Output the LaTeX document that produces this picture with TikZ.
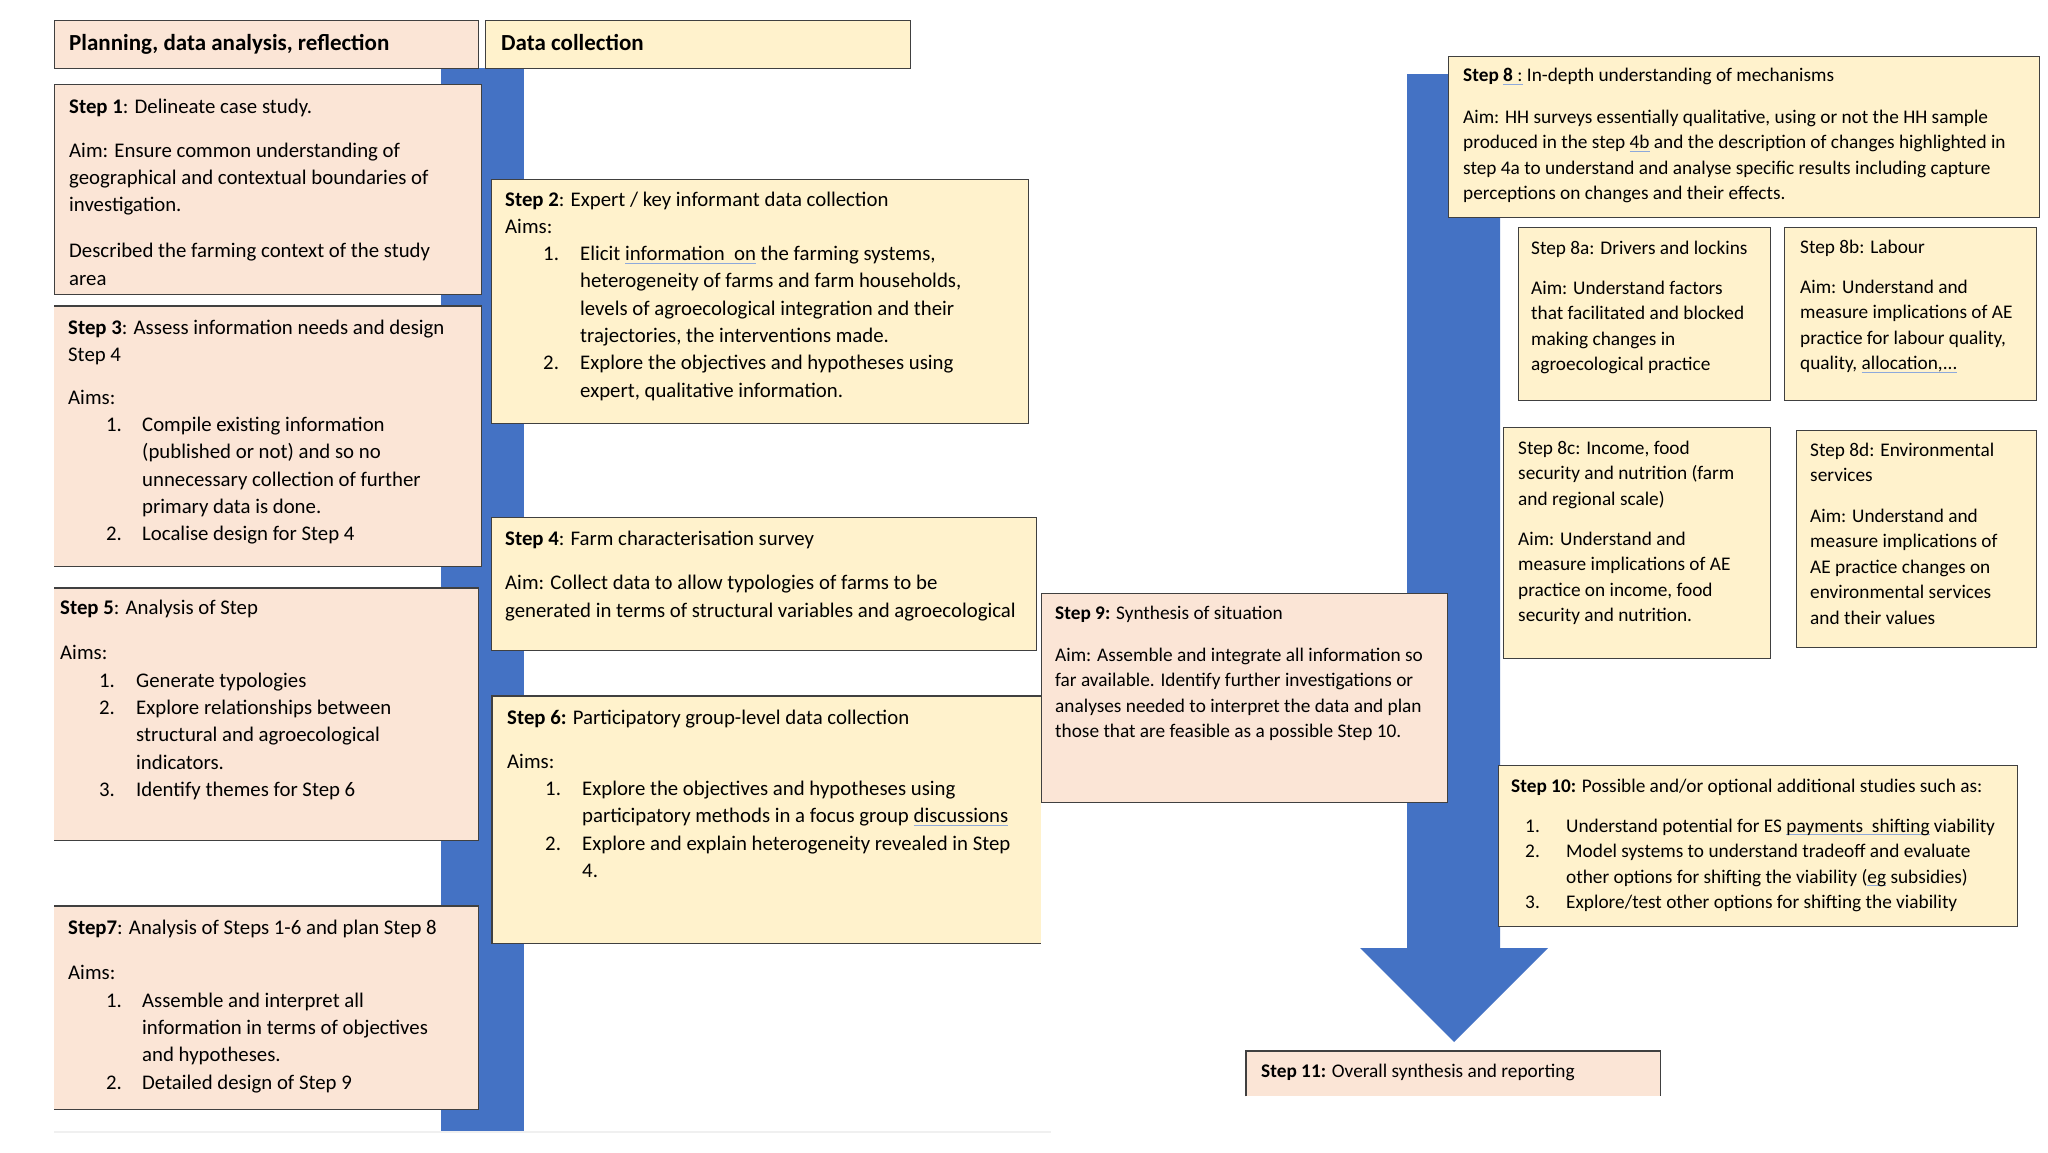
\documentclass[tikz,border=0pt]{standalone}
\usepackage{fontspec}
\setmainfont{Carlito}
\definecolor{peach}{HTML}{FBE5D6}
\definecolor{cream}{HTML}{FFF2CC}
\definecolor{flowblue}{HTML}{4472C4}
\definecolor{boxline}{HTML}{404040}
\definecolor{checkblue}{HTML}{8EA9DB}
\newsavebox{\chkbox}
\newcommand{\chk}[1]{\sbox{\chkbox}{#1}\rlap{\textcolor{checkblue}{\rule[-0.35ex]{\wd\chkbox}{1.3pt}}}\usebox{\chkbox}}
\newcommand{\itm}[3]{\hspace*{#1pt}\makebox[\dimexpr#2pt-#1pt\relax][l]{#3}}
\newcommand{\cnt}[1]{\hspace*{#1pt}}

\begin{document}
\begin{tikzpicture}[x=1pt,y=-1pt]
   \tikzset{pbox/.style = {fill=peach,draw=boxline,line width=1.3pt,anchor=north west,inner sep=0pt},
            ybox/.style = {fill=cream,draw=boxline,line width=1.3pt,anchor=north west,inner sep=0pt},
            pfill/.style = {fill=peach,anchor=north west,inner sep=0pt},
            yfill/.style = {fill=cream,anchor=north west,inner sep=0pt},
            rim/.style = {draw=boxline,line width=1.3pt},
            sz/.style 2 args = {minimum width=#1pt,minimum height=#2pt},
            headtext/.style = {anchor=base west,inner sep=0pt,font=\fontsize{23}{27}\selectfont\bfseries},
            bodytext/.style = {anchor=north west,yshift=13.1pt,align=left,inner sep=0pt,
                               execute at begin node=\strut,font=\fontsize{20.8}{27.3}\selectfont},
            sidetext/.style = {anchor=north west,yshift=12pt,align=left,inner sep=0pt,
                               execute at begin node=\strut,font=\fontsize{19.3}{25.5}\selectfont}}

   \fill[white] (0,0) rectangle (2048,1152);
   \useasboundingbox (0,0) rectangle (2048,1152);

   % blue bar and big arrow
   \fill[flowblue] (441,68) rectangle (524,1131);
   \fill[flowblue] (1407,74) -- (1500,74) -- (1500,948) -- (1548,948) -- (1454,1042)
                   -- (1360,948) -- (1407,948) -- cycle;
   \draw[black!6,line width=1.5pt] (54,1132) -- (1051,1132);

   % column heads
   \node[pbox,sz={424}{48}] (plan) at (54,20) {};
   \node[ybox,sz={425}{48}] (coll) at (485,20) {};
   \node[headtext] (plantxt) at (69,50) {Planning, data analysis, reflection};
   \node[headtext] (colltxt) at (501,50) {Data collection};

   % left column
   \node[pbox,sz={427}{210}] (s1) at (54,84) {};
   \node[pfill,sz={427}{260}] (s3) at (54,306) {};
   \node[pfill,sz={424}{252}] (s5) at (54,588) {};
   \node[pfill,sz={424}{203}] (s7) at (54,906) {};
   \draw[rim] (s3.north west) -- (s3.north east) -- (s3.south east) -- (s3.south west);
   \draw[rim] (s5.north west) -- (s5.north east) -- (s5.south east) -- (s5.south west);
   \draw[rim] (s7.north west) -- (s7.north east) -- (s7.south east) -- (s7.south west);

   \node[bodytext] (s1txt) at (69,111.5) {\textbf{Step 1}: Delineate case study.\\[17pt]
      Aim: Ensure common understanding of\\
      geographical and contextual boundaries of\\
      investigation.\\[18.5pt]
      Described the farming context of the study\\
      area};
   \node[bodytext] (s3txt) at (68,332.5) {\textbf{Step 3}: Assess information needs and design\\
      Step 4\\[15.6pt]
      Aims:\\
      \itm{38}{74}{1.}Compile existing information\\
      \cnt{74}(published or not) and so no\\
      \cnt{74}unnecessary collection of further\\
      \cnt{74}primary data is done.\\
      \itm{38}{74}{2.}Localise design for Step 4};
   \node[bodytext] (s5txt) at (60,613) {\textbf{Step 5}: Analysis of Step\\[18pt]
      Aims:\\
      \itm{39}{76}{1.}Generate typologies\\
      \itm{39}{76}{2.}Explore relationships between\\
      \cnt{76}structural and agroecological\\
      \cnt{76}indicators.\\
      \itm{39}{76}{3.}Identify themes for Step 6};
   \node[bodytext] (s7txt) at (68,933) {\textbf{Step7}: Analysis of Steps 1-6 and plan Step 8\\[18pt]
      Aims:\\
      \itm{38}{74}{1.}Assemble and interpret all\\
      \cnt{74}information in terms of objectives\\
      \cnt{74}and hypotheses.\\
      \itm{38}{74}{2.}Detailed design of Step 9};

   % data collection column
   \node[ybox,sz={537}{244}] (s2) at (491,179) {};
   \node[ybox,sz={545}{133}] (s4) at (491,517) {};
   \node[yfill,sz={549}{247}] (s6) at (492,696) {};
   \draw[rim] (s6.north east) -- (s6.north west) -- (s6.south west) -- (s6.south east);

   \node[bodytext] (s2txt) at (505,204.5) {\textbf{Step 2}: Expert / key informant data collection\\
      Aims:\\
      \itm{38}{75}{1.}Elicit \chk{information\ \ on} the farming systems,\\
      \cnt{75}heterogeneity of farms and farm households,\\
      \cnt{75}levels of agroecological integration and their\\
      \cnt{75}trajectories, the interventions made.\\
      \itm{38}{75}{2.}Explore the objectives and hypotheses using\\
      \cnt{75}expert, qualitative information.};
   \node[bodytext] (s4txt) at (505,544) {\textbf{Step 4}: Farm characterisation survey\\[17pt]
      Aim: Collect data to allow typologies of farms to be\\
      generated in terms of structural variables and agroecological};
   \node[bodytext] (s6txt) at (507,723) {\textbf{Step 6:} Participatory group-level data collection\\[16.5pt]
      Aims:\\
      \itm{38}{75}{1.}Explore the objectives and hypotheses using\\
      \cnt{75}participatory methods in a focus group \chk{discussions}\\
      \itm{38}{75}{2.}Explore and explain heterogeneity revealed in Step\\
      \cnt{75}4.};

   % synthesis
   \node[pbox,sz={406}{209}] (s9) at (1041,593) {};
   \node[sidetext] (s9txt) at (1055,618) {\textbf{Step 9:} Synthesis of situation\\[16pt]
      Aim: Assemble and integrate all information so\\
      far available. Identify further investigations or\\
      analyses needed to interpret the data and plan\\
      those that are feasible as a possible Step 10.};

   % step 8 and its parts
   \node[ybox,sz={591}{161}] (s8) at (1448,56) {};
   \node[ybox,sz={252}{173}] (s8a) at (1518,227) {};
   \node[ybox,sz={252}{173}] (s8b) at (1784,227) {};
   \node[ybox,sz={267}{231}] (s8c) at (1503,427) {};
   \node[ybox,sz={240}{217}] (s8d) at (1796,430) {};

   \node[sidetext] (s8txt) at (1463,80) {\textbf{Step }\chk{\textbf{8} :} In-depth understanding of mechanisms\\[16pt]
      Aim: HH surveys essentially qualitative, using or not the HH sample\\
      produced in the step \chk{4b} and the description of changes highlighted in\\
      step 4a to understand and analyse specific results including capture\\
      perceptions on changes and their effects.};
   \node[sidetext] (s8atxt) at (1531,252.5) {Step 8a: Drivers and lockins\\[14.5pt]
      Aim: Understand factors\\
      that facilitated and blocked\\
      making changes in\\
      agroecological practice};
   \node[sidetext] (s8btxt) at (1800,251.5) {Step 8b: Labour\\[14.5pt]
      Aim: Understand and\\
      measure implications of AE\\
      practice for labour quality,\\
      quality, \chk{allocation,...}};
   \node[sidetext] (s8ctxt) at (1518,452.5) {Step 8c: Income, food\\
      security and nutrition (farm\\
      and regional scale)\\[14.5pt]
      Aim: Understand and\\
      measure implications of AE\\
      practice on income, food\\
      security and nutrition.};
   \node[sidetext] (s8dtxt) at (1810,454.5) {Step 8d: Environmental\\
      services\\[15pt]
      Aim: Understand and\\
      measure implications of\\
      AE practice changes on\\
      environmental services\\
      and their values};

   % further studies and report
   \node[ybox,sz={519}{161}] (s10) at (1498,765) {};
   \node[sidetext] (s10txt) at (1511,790.5) {\textbf{Step 10:} Possible and/or optional additional studies such as:\\[14.5pt]
      \itm{14}{55}{1.}Understand potential for ES \chk{payments\ \ shifting} viability\\
      \itm{14}{55}{2.}Model systems to understand tradeoff and evaluate\\
      \cnt{55}other options for shifting the viability (\chk{eg} subsidies)\\
      \itm{14}{55}{3.}Explore/test other options for shifting the viability};

   \node[pfill,sz={414}{45}] (s11) at (1246,1051) {};
   \draw[rim] (s11.south west) -- (s11.north west) -- (s11.north east) -- (s11.south east);
   \node[headtext,font=\fontsize{19.3}{25.5}\selectfont] (s11txt) at (1261,1077) {\textbf{Step 11:} Overall synthesis and reporting};
  \end{tikzpicture}
\end{document}
